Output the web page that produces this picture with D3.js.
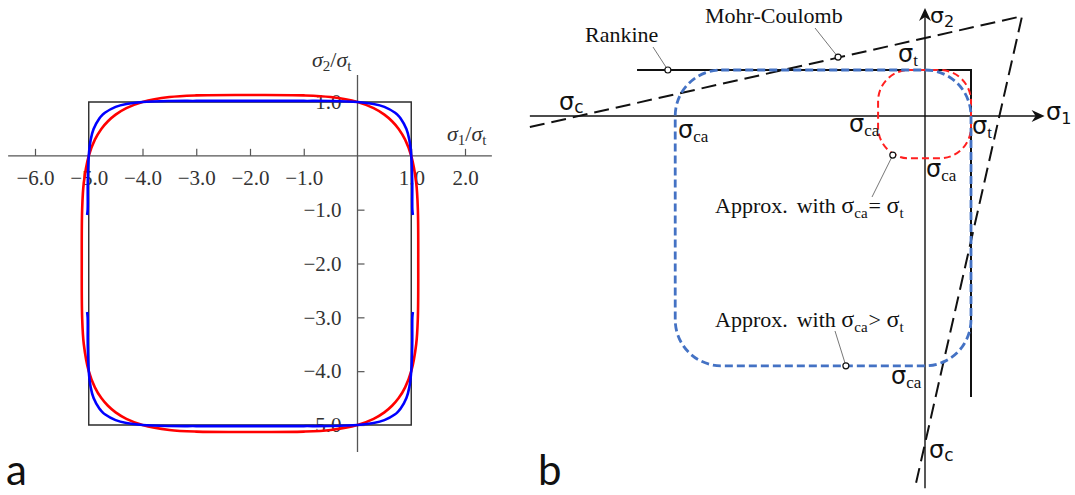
<!DOCTYPE html>
<html><head><meta charset="utf-8">
<script src="https://cdn.jsdelivr.net/npm/d3@7"></script>
<style>body{margin:0;background:#fff}svg{display:block}</style>
</head><body>
<svg id="c" width="1075" height="495"></svg>
<script>
// ---------- Panel a data (units of sigma_t) ----------
const aXTicks = [-6, -5, -4, -3, -2, -1, 1, 2];
const aYTicks = [1, -1, -2, -3, -4, -5];
const aXExtent = [-6.5, 2.5];
const aYExtent = [-5.5, 1.5];
const aRankine = [[-5, 1], [1, 1], [1, -5], [-5, -5]];
const aRed = [
  [-2, 1.13], [-1, 1.123], [-0.5, 1.092], [0, 1.0], [0.3, 0.886], [0.5, 0.766], [0.643, 0.643], [0.766, 0.5], [0.886, 0.3], [1.0, 0], [1.092, -0.5], [1.123, -1], [1.13, -2],
  [1.123, -3], [1.092, -3.5], [1.0, -4], [0.886, -4.3], [0.766, -4.5], [0.643, -4.643], [0.5, -4.766], [0.3, -4.886], [0, -5.0], [-0.5, -5.092], [-1, -5.123], [-2, -5.13],
  [-3, -5.123], [-3.5, -5.092], [-4, -5.0], [-4.3, -4.886], [-4.5, -4.766], [-4.643, -4.643], [-4.766, -4.5], [-4.886, -4.3], [-5, -4], [-5.092, -3.5], [-5.123, -3], [-5.13, -2],
  [-5.123, -1], [-5.092, -0.5], [-5, 0], [-4.886, 0.3], [-4.766, 0.5], [-4.643, 0.643], [-4.5, 0.766], [-4.3, 0.886], [-4, 1.0], [-3.5, 1.092], [-3, 1.123]
];
const aBlueUpper = [
  [-5.03, -1.1], [-5.02, -1], [-5.018, -0.5], [-5.0, 0], [-4.964, 0.3], [-4.91, 0.5], [-4.80, 0.7], [-4.753, 0.753], [-4.70, 0.80], [-4.5, 0.91], [-4.3, 0.964], [-4, 1.0],
  [-3.5, 1.018], [-3, 1.02], [-2, 1.02], [-1, 1.02], [-0.5, 1.018], [0, 1.0], [0.3, 0.964], [0.5, 0.91], [0.7, 0.80], [0.753, 0.753], [0.8, 0.7], [0.91, 0.5], [0.964, 0.3],
  [1.0, 0], [1.018, -0.5], [1.02, -1], [1.03, -1.1]
];
const aBlueLower = [
  [-5.03, -2.9], [-5.02, -3], [-5.018, -3.5], [-5.0, -4], [-4.964, -4.3], [-4.91, -4.5], [-4.80, -4.70], [-4.753, -4.753], [-4.70, -4.80], [-4.5, -4.91], [-4.3, -4.964], [-4, -5.0],
  [-3.5, -5.018], [-3, -5.02], [-2, -5.02], [-1, -5.02], [-0.5, -5.018], [0, -5.0], [0.3, -4.964], [0.5, -4.91], [0.7, -4.80], [0.753, -4.753], [0.8, -4.7], [0.91, -4.5], [0.964, -4.3],
  [1.0, -4], [1.018, -3.5], [1.02, -3], [1.03, -2.9]
];

// ---------- Panel b data (units of sigma_t) ----------
const bS1Extent = [-8.59, 2.6];
const bS2Extent = [-8.09, 2.35];
const bRankine = [[-6.26, 1], [1, 1], [1, -6.11]];
const bMohrCoulomb = [[-8.59, -0.24], [2.11, 2.17], [-0.22, -8.09]];
// rounded approximations: [sigma1 min, sigma1 max, sigma2 min, sigma2 max], corner radius
const bApproxLargeBounds = [-5.43, 1, -5.43, 1];
const bApproxLargeRadius = 1.0;
const bApproxSmallBounds = [-1.02, 1, -0.92, 1];
const bApproxSmallRadius = 0.68;
const bMarkers = [[-5.59, 1], [-1.89, 1.28], [-0.7, -0.85], [-1.72, -5.43]];

const svg = d3.select('#c');
const SERIF = "'Liberation Serif', 'DejaVu Serif', serif";
const SANS = "'DejaVu Sans', 'Noto Sans', sans-serif";

// =================== Panel a ===================
const xa = d3.scaleLinear().domain([-6, 2]).range([35, 465]);
const ya = d3.scaleLinear().domain([1, -5]).range([102, 425]);
const ga = svg.append('g');

ga.append('path')
  .attr('d', d3.line().x(d => xa(d[0])).y(d => ya(d[1]))(aRankine) + 'Z')
  .attr('fill', 'none').attr('stroke', '#2b2b2b').attr('stroke-width', 1.4);

ga.append('line').attr('x1', xa(aXExtent[0])).attr('x2', xa(aXExtent[1]))
  .attr('y1', ya(0)).attr('y2', ya(0)).attr('stroke', '#555').attr('stroke-width', 1.3);
ga.append('line').attr('y1', ya(aYExtent[0])).attr('y2', ya(aYExtent[1]))
  .attr('x1', xa(0)).attr('x2', xa(0)).attr('stroke', '#555').attr('stroke-width', 1.3);

const fmt = d3.format('.1f');
const xAx = d3.axisBottom(xa).tickValues(aXTicks).tickFormat(fmt).tickSizeInner(-7).tickSizeOuter(0).tickPadding(14.5);
const gx = ga.append('g').attr('transform', `translate(0,${ya(0)})`).call(xAx);
const yAx = d3.axisLeft(ya).tickValues(aYTicks).tickFormat(fmt).tickSizeInner(-7).tickSizeOuter(0).tickPadding(16);
const gy = ga.append('g').attr('transform', `translate(${xa(0)},0)`).call(yAx);
[gx, gy].forEach(g => {
  g.select('.domain').remove();
  g.selectAll('.tick line').attr('stroke', '#555').attr('stroke-width', 1.2);
  g.selectAll('.tick text').attr('fill', '#333').attr('font-family', SERIF).attr('font-size', 21);
});

const lineA = d3.line().x(d => xa(d[0])).y(d => ya(d[1]));
ga.append('path').attr('d', lineA.curve(d3.curveCatmullRomClosed.alpha(0.5))(aRed))
  .attr('fill', 'none').attr('stroke', '#ff0000').attr('stroke-width', 2.6);
const lineB = d3.line().x(d => xa(d[0])).y(d => ya(d[1])).curve(d3.curveCatmullRom.alpha(0.5));
[aBlueUpper, aBlueLower].forEach(s => {
  ga.append('path').attr('d', lineB(s)).attr('fill', 'none').attr('stroke', '#0000ff').attr('stroke-width', 2.6);
});

function fracLabel(g, x, y, s1) {
  const t = g.append('text').attr('x', x).attr('y', y).attr('fill', '#333').attr('font-family', SERIF).attr('font-size', 22);
  t.append('tspan').attr('font-style', 'italic').text('σ');
  t.append('tspan').attr('font-size', 15).attr('dy', 4).text(s1);
  t.append('tspan').attr('dy', -4).text('/');
  t.append('tspan').attr('font-style', 'italic').text('σ');
  t.append('tspan').attr('font-size', 15).attr('dy', 4).text('t');
}
fracLabel(ga, 312, 67, '2');
fracLabel(ga, 447, 141, '1');

svg.append('text').attr('x', 6).attr('y', 485).attr('font-family', "Lato, 'Open Sans', sans-serif")
  .attr('font-size', 42).attr('fill', '#111').text('a');
svg.append('text').attr('x', 538).attr('y', 485).attr('font-family', "Lato, 'Open Sans', sans-serif")
  .attr('font-size', 42).attr('fill', '#111').text('b');

// =================== Panel b ===================
const xb = d3.scaleLinear().domain([0, 1]).range([925, 971]);
const yb = d3.scaleLinear().domain([0, 1]).range([116, 70]);
const gb = svg.append('g');
const lb = d3.line().x(d => xb(d[0])).y(d => yb(d[1]));

gb.append('line').attr('x1', xb(bS1Extent[0])).attr('x2', xb(bS1Extent[1]) - 4).attr('y1', yb(0)).attr('y2', yb(0))
  .attr('stroke', '#111').attr('stroke-width', 1.4);
gb.append('line').attr('y1', yb(bS2Extent[0])).attr('y2', yb(bS2Extent[1]) + 4).attr('x1', xb(0)).attr('x2', xb(0))
  .attr('stroke', '#111').attr('stroke-width', 1.4);
const tipX = xb(bS1Extent[1]), tipY = yb(bS2Extent[1]);
gb.append('path').attr('d', `M${tipX},${yb(0)} L${tipX - 13},${yb(0) - 6} L${tipX - 9},${yb(0)} L${tipX - 13},${yb(0) + 6} Z`).attr('fill', '#111');
gb.append('path').attr('d', `M${xb(0)},${tipY} L${xb(0) - 6},${tipY + 13} L${xb(0)},${tipY + 9} L${xb(0) + 6},${tipY + 13} Z`).attr('fill', '#111');

gb.append('path').attr('d', lb(bRankine)).attr('fill', 'none').attr('stroke', '#111').attr('stroke-width', 2);
gb.append('path').attr('d', lb(bMohrCoulomb)).attr('fill', 'none').attr('stroke', '#111')
  .attr('stroke-width', 2).attr('stroke-dasharray', '15,7');

function roundedPath(b, r) {
  const x0 = xb(b[0]), x1 = xb(b[1]), y0 = yb(b[3]), y1 = yb(b[2]);
  const rx = xb(r) - xb(0), ry = yb(0) - yb(r);
  const p = d3.path();
  p.moveTo(x0 + rx, y0);
  p.arcTo(x1, y0, x1, y0 + ry, rx);
  p.arcTo(x1, y1, x1 - rx, y1, rx);
  p.arcTo(x0, y1, x0, y1 - ry, rx);
  p.arcTo(x0, y0, x0 + rx, y0, rx);
  p.closePath();
  return p.toString();
}
gb.append('path').attr('d', roundedPath(bApproxSmallBounds, bApproxSmallRadius)).attr('fill', 'none').attr('stroke', '#ff2020')
  .attr('stroke-width', 2).attr('stroke-dasharray', '7,4');
gb.append('path').attr('d', roundedPath(bApproxLargeBounds, bApproxLargeRadius)).attr('fill', 'none').attr('stroke', '#4472c4')
  .attr('stroke-width', 2.8).attr('stroke-dasharray', '8,4');

const leaders = [[653, 47], [815, 28], [872, 197], [835, 331]];
bMarkers.forEach((m, i) => {
  gb.append('line').attr('x1', leaders[i][0]).attr('y1', leaders[i][1]).attr('x2', xb(m[0])).attr('y2', yb(m[1]))
    .attr('stroke', '#777').attr('stroke-width', 1);
});
bMarkers.forEach(m => {
  gb.append('circle').attr('cx', xb(m[0])).attr('cy', yb(m[1])).attr('r', 3)
    .attr('fill', '#fff').attr('stroke', '#111').attr('stroke-width', 1.2);
});

gb.append('text').attr('x', 585).attr('y', 42).attr('font-family', SERIF).attr('font-size', 22).attr('fill', '#111').text('Rankine');
gb.append('text').attr('x', 705).attr('y', 23).attr('font-family', SERIF).attr('font-size', 22).attr('fill', '#111').text('Mohr-Coulomb');

function sig(x, y, sub, subFont, subSize, dy, size) {
  const t = gb.append('text').attr('x', x).attr('y', y).attr('fill', '#111');
  t.append('tspan').attr('font-family', SANS).attr('font-size', size || 24).text('σ');
  t.append('tspan').attr('font-family', subFont).attr('font-size', subSize).attr('dy', dy).text(sub);
}
sig(1046, 120, '1', SANS, 16, 4);
sig(930, 23, '2', SANS, 16, 4, 22);
sig(898, 62, 't', SERIF, 17, 4);
sig(972, 134, 't', SERIF, 17, 4);
sig(849, 132, 'ca', SERIF, 17, 4);
sig(926, 177, 'ca', SERIF, 17, 4);
sig(678, 138, 'ca', SERIF, 17, 4);
sig(891, 384, 'ca', SERIF, 17, 4);
sig(559, 110, 'c', SANS, 17, 3);
sig(929, 458, 'c', SANS, 17, 3);

function approx(y, rel) {
  const t = gb.append('text').attr('x', 715).attr('y', y).attr('fill', '#111').attr('font-family', SERIF).attr('font-size', 22);
  t.append('tspan').text('Approx.');
  t.append('tspan').attr('dx', 9).text('with ');
  t.append('tspan').attr('font-size', 24).text('σ');
  t.append('tspan').attr('font-size', 15).attr('dy', 5).text('ca');
  t.append('tspan').attr('dy', -5).attr('dx', 1).text(rel + ' ');
  t.append('tspan').attr('font-size', 24).text('σ');
  t.append('tspan').attr('font-size', 15).attr('dy', 5).text('t');
}
approx(213, '=');
approx(327, '>');
</script>
</body></html>
